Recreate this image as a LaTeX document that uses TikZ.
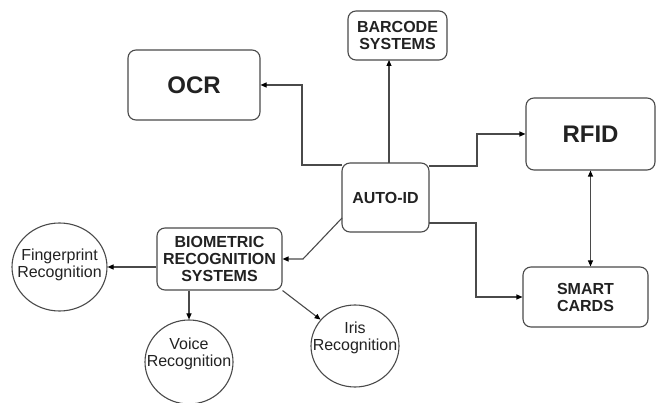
\documentclass[tikz,border=0pt]{standalone}
\usepackage{fontspec}
\setmainfont{Liberation Sans}
\usetikzlibrary{arrows.meta,shapes.geometric,calc}
\definecolor{lncol}{HTML}{4A4A4A}
\definecolor{txcol}{HTML}{222222}
\begin{document}
\begin{tikzpicture}[x=1pt,y=-1pt,
  box/.style={draw=lncol,line width=1.1pt,rounded corners=8pt,rectangle,align=center,
    text=txcol,font=\bfseries\fontsize{16}{17}\selectfont,inner sep=0pt},
  bigbox/.style={box,font=\bfseries\fontsize{24}{26}\selectfont},
  circ/.style={draw=lncol,line width=1.1pt,ellipse,inner sep=0pt},
  ctext/.style={align=center,text=txcol,font=\fontsize{16}{17}\selectfont,inner sep=0pt},
  arr/.style={draw=lncol,line width=1.1pt,-{Triangle[length=6pt,width=5pt,color=black]}},
  darr/.style={draw=lncol,line width=1.1pt,{Triangle[length=6pt,width=5pt,color=black]}-{Triangle[length=6pt,width=5pt,color=black]}}]
\useasboundingbox (0,0) rectangle (656,403);
\fill[white] (0,0) rectangle (656,403);

\node[bigbox,minimum width=132pt,minimum height=70pt] (ocr) at (194,85) {OCR};
\node[box,minimum width=99pt,minimum height=49pt] (barcode) at (397.5,35.5) {BARCODE\\SYSTEMS};
\node[box,minimum width=87pt,minimum height=69pt] (auto) at (385.5,197.5) {AUTO-ID};
\node[bigbox,minimum width=129pt,minimum height=72pt] (rfid) at (590.5,134) {RFID};
\node[box,minimum width=125pt,minimum height=60pt] (smart) at (585.5,297) {SMART\\CARDS};
\node[box,minimum width=125pt,minimum height=62pt] (bio) at (219.5,259) {BIOMETRIC\\RECOGNITION\\SYSTEMS};

\node[circ,minimum width=95pt,minimum height=88pt] (finger) at (59.5,267) {};
\node[ctext] (fingertxt) at (59.5,265) {Fingerprint\\Recognition};
\node[circ,minimum width=88pt,minimum height=84pt] (voice) at (189,362) {};
\node[ctext] (voicetxt) at (189,354) {Voice\\Recognition};
\node[circ,minimum width=88pt,minimum height=82pt] (iris) at (355,346) {};
\node[ctext] (iristxt) at (355,338) {Iris\\Recognition};

% connectors
\coordinate (a1) at (342,165);
\coordinate (k1) at (302,165);
\draw[arr] (a1) -- (k1) |- (ocr.east);

\coordinate (b1) at (389,163);
\coordinate (b2) at (389,60);
\draw[arr] (b1) -- (b2);

\coordinate (r1) at (429,166);
\coordinate (r2) at (477,166);
\draw[arr] (r1) -- (r2) |- (rfid.west);

\coordinate (s1) at (429,223);
\coordinate (s2) at (476,223);
\draw[arr] (s1) -- (s2) |- (smart.west);

\draw[darr] (rfid.south) -- (rfid.south |- smart.north);

\coordinate (m1) at (342,218);
\coordinate (m2) at (303,259);
\draw[arr] (m1) -- (m2) -- (bio.east);

\draw[arr] (bio.west |- finger.east) -- (finger.east);
\draw[arr] (voice.north |- bio.south) -- (voice.north);
\draw[arr] (bio.south east) -- (iris);
\end{tikzpicture}
\end{document}
